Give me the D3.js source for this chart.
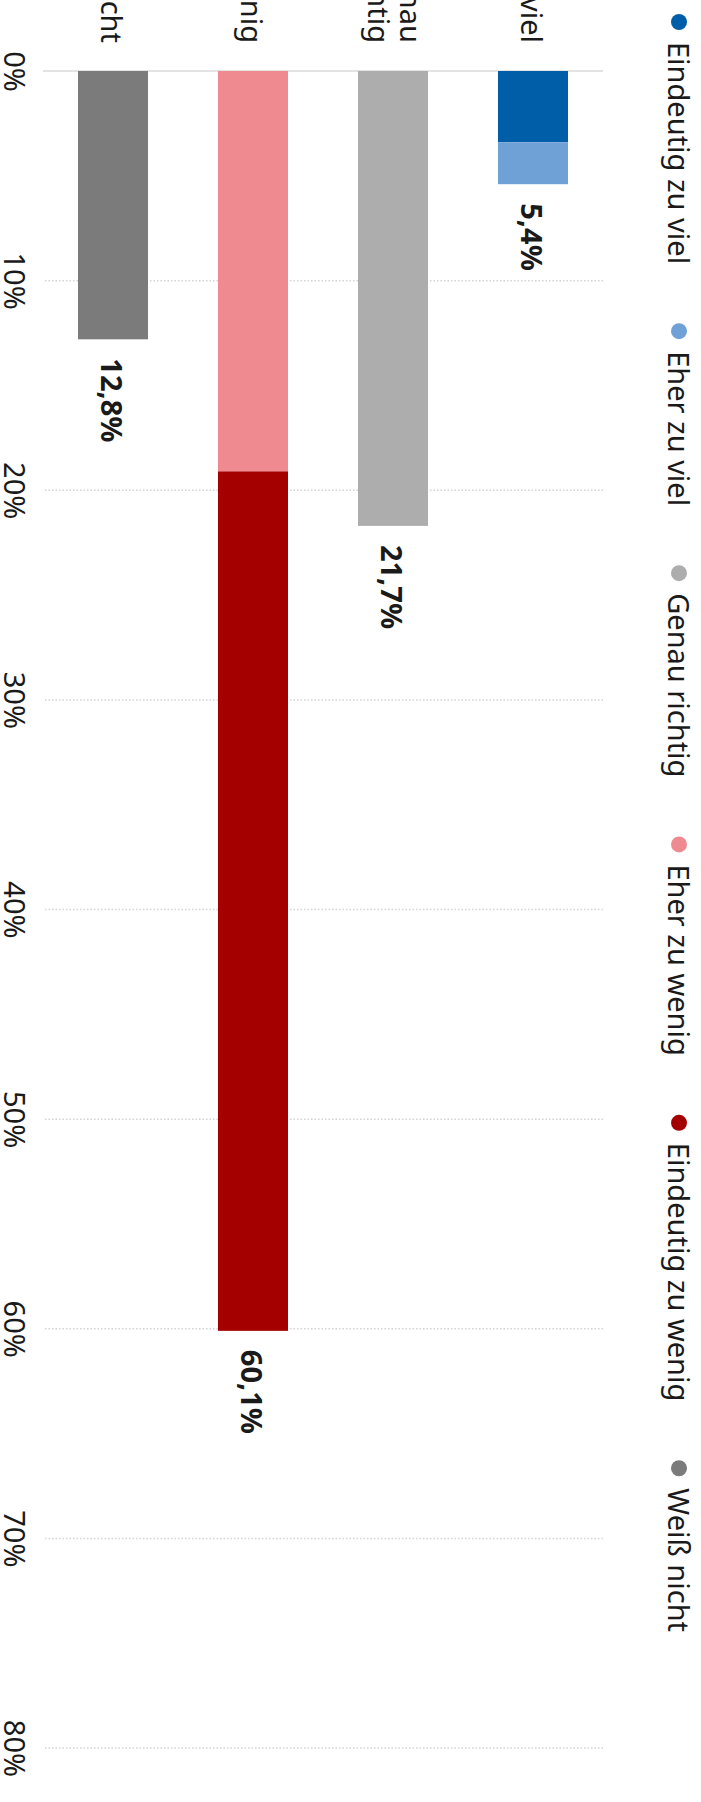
<!DOCTYPE html>
<html>
<head>
<meta charset="utf-8">
<script src="https://cdn.jsdelivr.net/npm/d3@7"></script>
<style>
html,body{margin:0;padding:0;background:#fff;overflow:hidden;}
svg{display:block;}
text{font-family:"Noto Sans","Open Sans",sans-serif;fill:#1a1a1a;}
</style>
</head>
<body>
<svg id="chart" width="701" height="1802"></svg>
<script>
// ---- data ----
const categories = ["Zu viel", "Genau richtig", "Zu wenig", "Weiß nicht"];
const categoryLines = [["Zu viel"], ["Genau", "richtig"], ["Zu wenig"], ["Weiß nicht"]];
const seriesNames = ["Eindeutig zu viel", "Eher zu viel", "Genau richtig", "Eher zu wenig", "Eindeutig zu wenig", "Weiß nicht"];
const seriesColors = ["#005ea8", "#6fa1d6", "#adadad", "#f08a91", "#a50000", "#7b7b7b"];
const eindeutigZuViel  = [3.4, 0, 0, 0];
const eherZuViel       = [2.0, 0, 0, 0];
const genauRichtig     = [0, 21.7, 0, 0];
const eherZuWenig      = [0, 0, 19.1, 0];
const eindeutigZuWenig = [0, 0, 41.0, 0];
const weissNicht       = [0, 0, 0, 12.8];
const tickValues = [0, 10, 20, 30, 40, 50, 60, 70, 80];
const tickLabels = ["0%", "10%", "20%", "30%", "40%", "50%", "60%", "70%", "80%"];

// ---- build table ----
const seriesValues = [eindeutigZuViel, eherZuViel, genauRichtig, eherZuWenig, eindeutigZuWenig, weissNicht];
const table = categories.map((c, i) => {
  const row = {category: c};
  seriesNames.forEach((s, j) => row[s] = seriesValues[j][i]);
  return row;
});
const stacked = d3.stack().keys(seriesNames)(table);
const totals = table.map(r => d3.sum(seriesNames, s => r[s]));
const de = d3.formatLocale({decimal: ",", thousands: ".", grouping: [3], currency: ["", " €"]});
const fmt = de.format(".1f");

// ---- layout (drawn in an unrotated frame, then turned 90° clockwise) ----
const SW = 701, SH = 1802;      // screen size
const FS = 29;

const svg = d3.select("#chart");
const g = svg.append("g").attr("transform", `translate(${SW},0) rotate(90)`);

const x = d3.scaleLinear().domain([0, 80]).range([71, 1748]);
const y = d3.scaleBand().domain(categories).range([98, 658]).paddingInner(0.5).paddingOuter(0.25);

// gridlines
g.append("g").selectAll("line").data(tickValues).join("line")
  .attr("x1", d => x(d)).attr("x2", d => x(d))
  .attr("y1", 98).attr("y2", 658)
  .attr("stroke", d => d === 0 ? "#e3e3e3" : "#d4d4d4")
  .attr("stroke-width", d => d === 0 ? 2 : 1.5)
  .attr("stroke-dasharray", d => d === 0 ? null : "1.5,2");

// axis tick labels
const axis = d3.axisBottom(x).tickValues(tickValues).tickSize(0)
  .tickFormat((d, i) => tickLabels[i]);
const axG = g.append("g").attr("transform", "translate(0,675)").call(axis);
axG.select(".domain").remove();
axG.selectAll("text")
  .attr("y", 0).attr("dy", 22)
  .style("font-size", FS + "px")
  .style("font-family", '"Noto Sans","Open Sans",sans-serif')
  .attr("fill", "#1a1a1a");

// bars
g.append("g").selectAll("g").data(stacked).join("g")
  .attr("fill", (d, i) => seriesColors[i])
  .selectAll("rect").data(d => d.filter(p => p[1] - p[0] > 0)).join("rect")
  .attr("x", p => x(p[0]))
  .attr("width", p => x(p[1]) - x(p[0]))
  .attr("y", p => y(p.data.category))
  .attr("height", y.bandwidth());

// value labels
g.append("g").selectAll("text").data(categories).join("text")
  .attr("x", (c, i) => x(totals[i]) + 19)
  .attr("y", c => y(c) + y.bandwidth() / 2 + 12)
  .attr("font-size", FS)
  .attr("font-weight", "bold")
  .text((c, i) => fmt(totals[i]) + "%");

// category labels
const cl = g.append("g").selectAll("text").data(categories).join("text")
  .attr("text-anchor", "end")
  .attr("font-size", FS)
  .attr("y", c => y(c) + y.bandwidth() / 2 + 12);
cl.each(function(c, i) {
  const lines = categoryLines[i];
  const t = d3.select(this);
  const lh = 32;
  lines.forEach((ln, k) => {
    t.append("tspan").attr("x", 43)
      .attr("dy", k === 0 ? (lines.length > 1 ? -(lines.length - 1) * lh / 2 - 2.5 : 0) : lh)
      .text(ln);
  });
});

// legend
const lg = g.append("g");
let cx = 22;
seriesNames.forEach((s, i) => {
  const item = lg.append("g");
  item.append("circle").attr("cx", cx).attr("cy", 22).attr("r", 8).attr("fill", seriesColors[i]);
  const t = item.append("text").attr("x", cx + 20).attr("y", 33.5).attr("font-size", FS).text(s);
  cx = cx + 20 + t.node().getComputedTextLength() + 67;
});
</script>
</body>
</html>
